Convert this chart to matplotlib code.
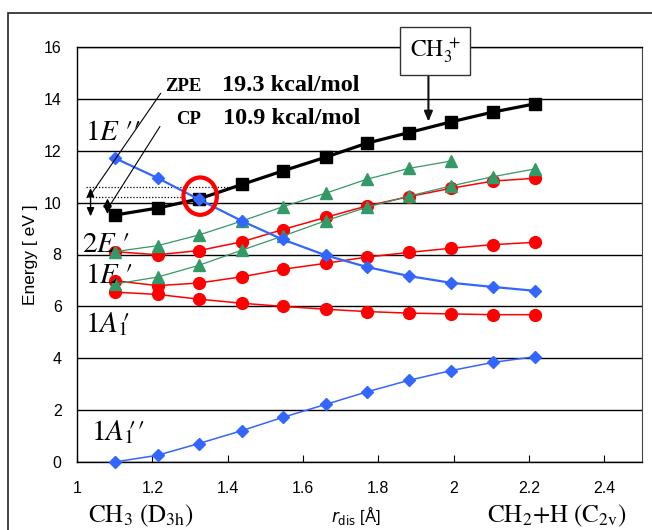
import matplotlib
matplotlib.use("Agg")
import matplotlib.pyplot as plt
from matplotlib.patches import Ellipse, Rectangle

plt.rcParams['mathtext.fontset'] = 'stix'
plt.rcParams['font.family'] = ['Liberation Sans', 'DejaVu Sans']

# ---- data ----
r_dis = [1.10, 1.214, 1.323, 1.438, 1.546, 1.660, 1.769, 1.881, 1.992, 2.104, 2.216]
ch3_cation = [9.52, 9.79, 10.14, 10.70, 11.22, 11.75, 12.29, 12.70, 13.11, 13.49, 13.81]
blue_upper = [11.72, 10.95, 10.13, 9.29, 8.58, 7.97, 7.52, 7.17, 6.91, 6.75, 6.60]
blue_lower = [0.0, 0.26, 0.71, 1.21, 1.72, 2.22, 2.70, 3.15, 3.52, 3.84, 4.06]
red_low = [6.55, 6.46, 6.28, 6.12, 6.00, 5.89, 5.80, 5.74, 5.71, 5.68, 5.68]
red_mid = [6.99, 6.80, 6.90, 7.14, 7.43, 7.66, 7.90, 8.08, 8.24, 8.38, 8.47]
red_top = [8.11, 7.99, 8.15, 8.49, 8.96, 9.43, 9.87, 10.23, 10.55, 10.83, 10.94]
green_upper = [8.11, 8.34, 8.75, 9.29, 9.84, 10.36, 10.90, 11.32, 11.60]
green_lower = [6.86, 7.13, 7.58, 8.17, 8.71, 9.30, 9.82, 10.25, 10.64, 11.00, 11.30]

x_ticks = [1, 1.2, 1.4, 1.6, 1.8, 2, 2.2, 2.4]
x_tick_labels = ['1', '1.2', '1.4', '1.6', '1.8', '2', '2.2', '2.4']
y_ticks = [0, 2, 4, 6, 8, 10, 12, 14, 16]
state_labels = [r'$1E\ \prime\prime$', r'$2E\ \prime$', r'$1E\ \prime$',
                r'$1A_{\mathit{1}}\!\!\prime$', r'$1A_{\mathit{1}}\!\!\prime\prime$']
state_pos = [(1.022, 12.41), (1.014, 8.11), (1.022, 6.89), (1.022, 5.0), (1.036, 0.85)]
zpe_text = '19.3 kcal/mol'
cp_text = '10.9 kcal/mol'

W, H = 652, 530
fig = plt.figure(figsize=(W / 100, H / 100), dpi=100)
ax = fig.add_axes([77 / W, 1 - 462 / H, (642 - 77) / W, (462 - 47) / H])

# outer border
fig.patches.append(Rectangle((8 / W, -0.05), 1.2, 1 - 13 / H + 0.05, transform=fig.transFigure,
                             fill=False, edgecolor='#222222', linewidth=1.2))

BLUE = '#3366FF'
RED = '#FF0000'
GREEN = '#339966'

ax.plot(r_dis, red_low, color=RED, lw=1.1, marker='o', ms=8.5, zorder=3)
ax.plot(r_dis, red_mid, color=RED, lw=1.1, marker='o', ms=8.5, zorder=3)
ax.plot(r_dis, red_top, color=RED, lw=1.1, marker='o', ms=8.5, zorder=3)
ax.plot(r_dis[:len(green_upper)], green_upper, color=GREEN, lw=0.9, marker='^', ms=8.5, zorder=4)
ax.plot(r_dis, green_lower, color=GREEN, lw=0.9, marker='^', ms=8.5, zorder=4)
ax.plot(r_dis, ch3_cation, color='black', lw=2.3, marker='s', ms=9, zorder=5)
ax.plot(r_dis, blue_upper, color=BLUE, lw=1.6, marker='D', ms=6.5, zorder=6)
ax.plot(r_dis, blue_lower, color=BLUE, lw=1.1, marker='D', ms=6.5, zorder=6, clip_on=False)

ax.set_xlim(1, 2.5)
ax.set_ylim(0, 16)
ax.set_xticks(x_ticks)
ax.set_xticklabels(x_tick_labels)
ax.set_yticks(y_ticks)
ax.yaxis.grid(True, color='black', lw=1.0)
ax.set_axisbelow(True)
ax.tick_params(axis='x', direction='in', length=5, pad=14, labelsize=11.5)
ax.tick_params(axis='y', length=0, pad=11, labelsize=11.5)
for s in ['left', 'bottom', 'top']:
    ax.spines[s].set_color('black')
    ax.spines[s].set_linewidth(1.0)
ax.spines['right'].set_color('#444444')

ax.set_ylabel('Energy [ eV ]', fontsize=12.5, labelpad=4)

# state labels
for lab, (x, y) in zip(state_labels, state_pos):
    ax.text(x, y, lab, fontsize=21, ha='left', va='baseline', zorder=7)

# dotted lines
ax.plot([1.025, 1.43], [10.61, 10.61], color='black', lw=0.9, ls=(0, (1, 1.5)), zorder=2)
ax.plot([1.025, 1.29], [10.23, 10.23], color='black', lw=0.9, ls=(0, (1, 1.5)), zorder=2)

# double arrows
ax.annotate('', xy=(1.036, 9.47), xytext=(1.036, 10.56),
            arrowprops=dict(arrowstyle='<|-|>,head_length=0.5,head_width=0.22', color='black', lw=1.0,
                            shrinkA=0, shrinkB=0), zorder=7)
ax.annotate('', xy=(1.081, 9.56), xytext=(1.081, 10.16),
            arrowprops=dict(arrowstyle='<|-|>,head_length=0.5,head_width=0.25', color='black', lw=1.0,
                            shrinkA=0, shrinkB=0), zorder=7)
# leader lines
ax.plot([1.222, 1.039], [14.21, 10.36], color='black', lw=0.8, zorder=7)
ax.plot([1.220, 1.088], [12.93, 9.91], color='black', lw=0.8, zorder=7)

serif = ['Liberation Serif', 'DejaVu Serif']
ax.text(1.33, 14.30, 'ZPE', family=serif, weight='bold', fontsize=13.5, ha='right', va='baseline')
ax.text(1.385, 14.30, zpe_text, family=serif, weight='bold', fontsize=17.5, ha='left', va='baseline')
ax.text(1.33, 13.03, 'CP', family=serif, weight='bold', fontsize=13.5, ha='right', va='baseline')
ax.text(1.387, 13.03, cp_text, family=serif, weight='bold', fontsize=17.5, ha='left', va='baseline')

# red circle
ax.add_patch(Ellipse((1.327, 10.25), 0.0887, 1.44, fill=False, edgecolor=RED, lw=3, zorder=8))

# CH3+ box and arrow
ax.annotate('', xy=(1.933, 13.12), xytext=(1.933, 15.22),
            arrowprops=dict(arrowstyle='-|>,head_length=0.6,head_width=0.25', color='#111111', lw=1.5,
                            shrinkA=0, shrinkB=0), zorder=7, annotation_clip=False)
ax.text(1.951, 15.85, r'$\mathrm{CH_3^{\;+}}$', fontsize=17, ha='center', va='center', zorder=9,
        bbox=dict(boxstyle='square,pad=0.4', facecolor='white', edgecolor='#333333', lw=1.0),
        clip_on=False)

# bottom labels
fig.text(88 / W, 1 - 522 / H, r'$\mathrm{CH_3\ (D_{3h})}$', fontsize=18, ha='left', va='baseline')
fig.text(487 / W, 1 - 522 / H, r'$\mathrm{CH_2{+}H\ (C_{2v})}$', fontsize=18, ha='left', va='baseline')
fig.text(356 / W, 1 - 522 / H, r'$r_{\mathrm{dis}}$ [Å]', fontsize=12, ha='center', va='baseline',
         math_fontfamily='dejavusans')

fig.savefig('out.png', dpi=100)
